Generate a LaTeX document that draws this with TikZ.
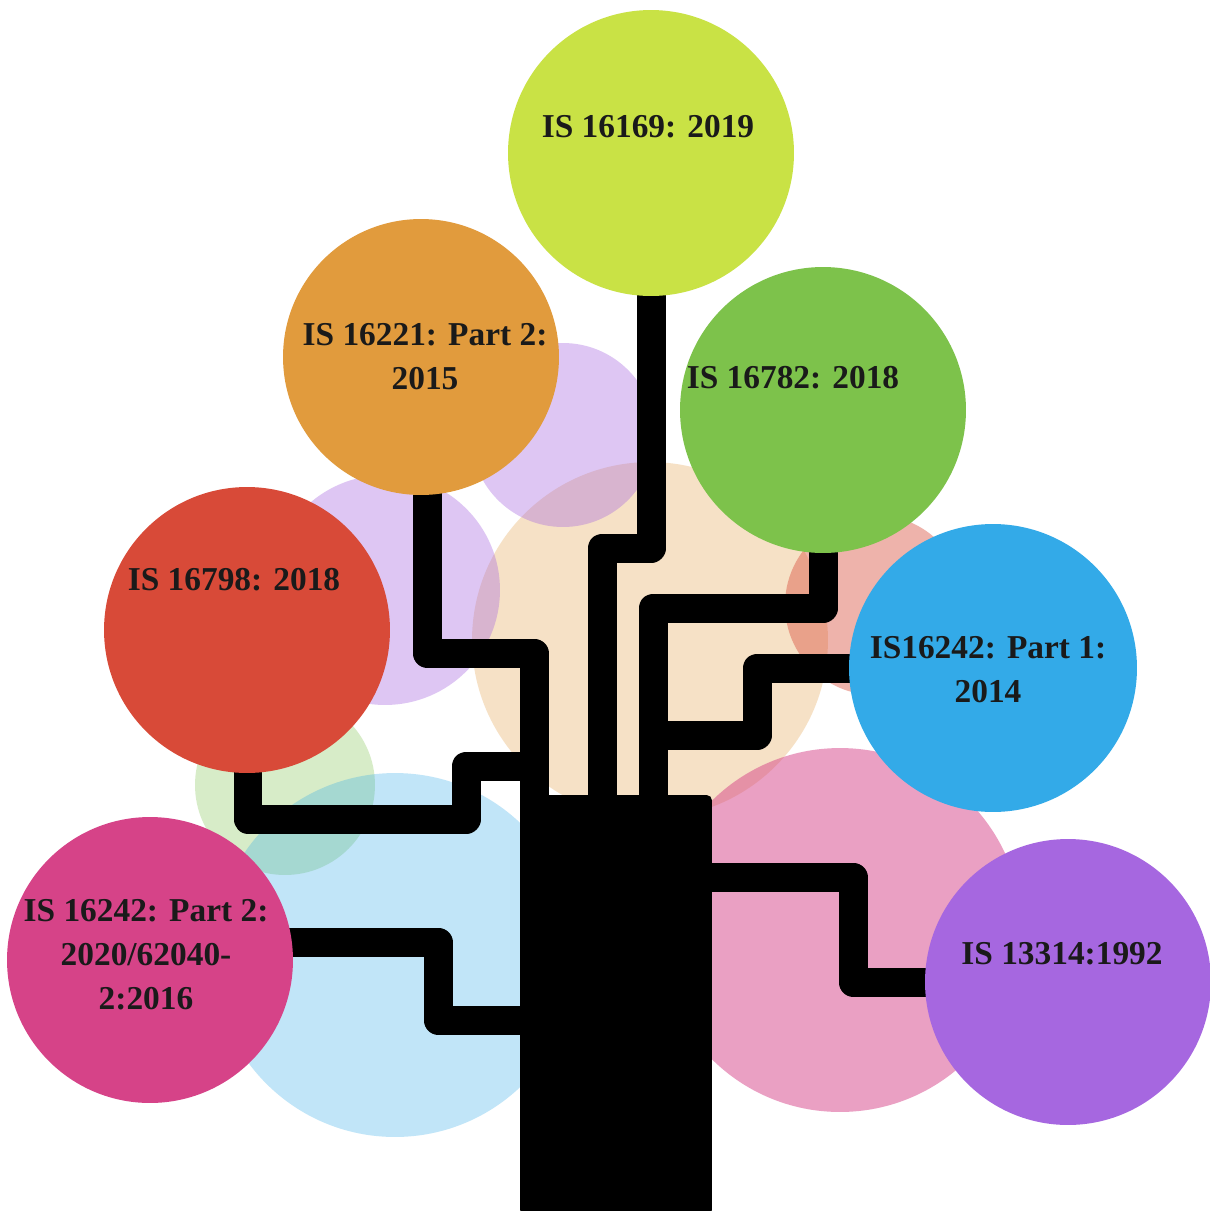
\documentclass[tikz,border=0pt]{standalone}
\usepackage{fontspec}
\setmainfont{Liberation Serif}
\usetikzlibrary{calc}
\pgfdeclarelayer{back}
\pgfdeclarelayer{wires}
\pgfsetlayers{back,wires,main}

\definecolor{cLime}{HTML}{C9E245}
\definecolor{cOrange}{HTML}{E19B3D}
\definecolor{cGreen}{HTML}{7DC24B}
\definecolor{cRed}{HTML}{D84A38}
\definecolor{cBlue}{HTML}{33AAE8}
\definecolor{cMagenta}{HTML}{D64388}
\definecolor{cPurple}{HTML}{A667E0}
\definecolor{cText}{HTML}{1A1A1A}

\tikzset{
  ball/.style={circle, inner sep=0pt, draw=none, minimum size=#1},
  ball/.default=5.72cm,
  haze/.style={circle, inner sep=0pt, draw=none, minimum size=#1},
  wire/.style={line width=0.58cm, line join=round, black},
  label text/.style={font=\fontsize{19}{25}\selectfont\bfseries, text=cText, align=center, inner sep=0pt},
}

\begin{document}
\begin{tikzpicture}[x=0.02cm, y=-0.02cm]
\useasboundingbox (0,0) rectangle (1210,1211);

% pale circles behind the tree
\begin{pgfonlayer}{back}
  \fill[white] (0,0) rectangle (1210,1211);
  \node[haze=7.12cm, fill=cOrange, fill opacity=0.29] (hpeach) at (650,640) {};
  \node[haze=3.68cm, fill=cPurple, fill opacity=0.37] (hlav1) at (563,435) {};
  \node[haze=4.6cm, fill=cPurple, fill opacity=0.37] (hlav2) at (385,590) {};
  \node[haze=3.6cm, fill=cGreen, fill opacity=0.3] (hgreen) at (285,785) {};
  \node[haze=7.28cm, fill=cBlue, fill opacity=0.3] (hblue) at (395,955) {};
  \node[haze=7.28cm, fill=cMagenta, fill opacity=0.5] (hpink) at (840,930) {};
  \node[haze=3.6cm, fill=cRed, fill opacity=0.42] (hsalmon) at (875,605) {};
\end{pgfonlayer}

% trunk
\node[fill=black, inner sep=0pt, minimum width=3.84cm, minimum height=8.4cm,
      rounded corners=3pt] (trunk) at (616,1005) {};

% coloured circles
\node[ball, fill=cLime] (lime) at (651,153) {};
\node[ball=5.52cm, fill=cOrange] (orange) at (421,357) {};
\node[ball, fill=cGreen] (green) at (823,410) {};
\node[ball, fill=cRed] (red) at (247,630) {};
\node[ball=5.76cm, fill=cBlue] (blue) at (993,668) {};
\node[ball, fill=cMagenta] (magenta) at (150,960) {};
\node[ball, fill=cPurple] (purple) at (1068,982) {};

% labels
\node[label text] (tlime) at (648,127) {IS 16169: 2019};
\node[label text] (torange) at (425,357) {IS 16221: Part 2:\\2015};
\node[label text] (tgreen) at (793,378) {IS 16782: 2018};
\node[label text] (tred) at (234,580) {IS 16798: 2018};
\node[label text] (tblue) at (988,670) {IS16242: Part 1:\\2014};
\node[label text] (tmagenta) at (146,955) {IS 16242: Part 2:\\2020/62040-\\2:2016};
\node[label text] (tpurple) at (1062,954) {IS 13314:1992};

% branches
\begin{pgfonlayer}{wires}
  \draw[wire] (427,0 |- orange.center) -- (427,653) -- (534,653) -- (534,0 |- trunk.center);
  \draw[wire] (lime.center) -- (651,548) -- (602,548) -- (602,0 |- trunk.center);
  \draw[wire] (green.center) -- (823,608) -- (653,608) -- (653,0 |- trunk.center);
  \draw[wire] (blue.center) -- (757,0 |- blue.center) -- (757,735) -- (653,735) -- (653,0 |- trunk.center);
  \draw[wire] (248,0 |- red.center) -- (248,819) -- (466,819) -- (466,766) -- (534,766) -- (534,0 |- trunk.center);
  \draw[wire] ($(magenta.center)+(0,-18)$) -- (438,942) -- (438,1020) -- (trunk.center |- 0,1020);
  \draw[wire] (purple.center) -- (853,0 |- purple.center) -- (853,877) -- (trunk.center |- 0,877);
\end{pgfonlayer}
\end{tikzpicture}
\end{document}
